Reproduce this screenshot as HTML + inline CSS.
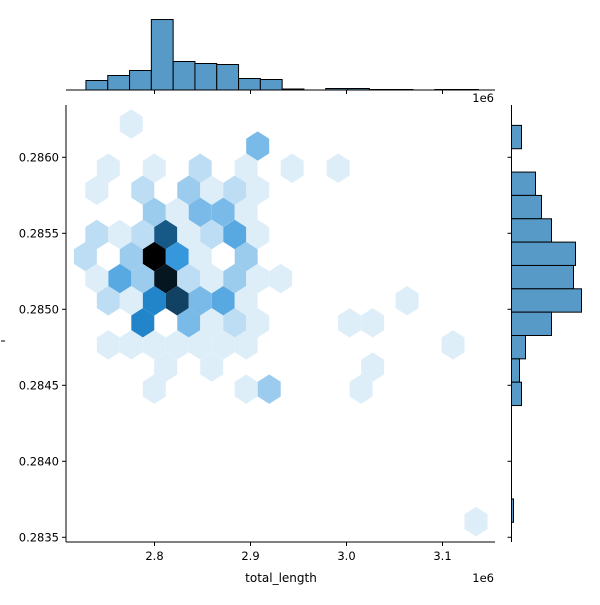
<!DOCTYPE html>
<html><head><meta charset="utf-8"><style>
html,body{margin:0;padding:0;background:#fff;}
svg text{font-family:"DejaVu Sans","Liberation Sans",sans-serif;fill:#000;}
</style></head><body>
<svg id="chart" width="600" height="600" viewBox="0 0 600 600" xmlns="http://www.w3.org/2000/svg">
<rect width="600" height="600" fill="#fff"/>
<g id="hexes"></g>
<g id="tophist"></g>
<g id="righthist"></g>
<g id="axes"></g>
</svg>
<script>
// ---- data ----
const hexX = [2.7758,2.9075,
2.7519,2.7998,2.8476,2.8955,2.9434,2.9913,
2.7399,2.7878,2.8357,2.8596,2.8836,2.9075,
2.7998,2.8237,2.8476,2.8716,2.8955,
2.7399,2.7639,2.7878,2.8117,2.8357,2.8596,2.8836,2.9075,
2.7280,2.7758,2.7998,2.8237,2.8476,2.8955,
2.7399,2.7639,2.7878,2.8117,2.8357,2.8596,2.8836,2.9075,2.9314,
2.7519,2.7758,2.7998,2.8237,2.8476,2.8716,2.8955,3.0631,
2.7878,2.8357,2.8596,2.8836,2.9075,3.0032,3.0272,
2.7519,2.7758,2.7998,2.8237,2.8476,2.8716,2.8955,3.1110,
2.8117,2.8596,3.0272,
2.7998,2.8955,2.9195,3.0152,
3.1349];
const hexY = [0.286219,0.286074,
0.285928,0.285928,0.285928,0.285928,0.285928,0.285928,
0.285783,0.285783,0.285783,0.285783,0.285783,0.285783,
0.285638,0.285638,0.285638,0.285638,0.285638,
0.285492,0.285492,0.285492,0.285492,0.285492,0.285492,0.285492,0.285492,
0.285347,0.285347,0.285347,0.285347,0.285347,0.285347,
0.285202,0.285202,0.285202,0.285202,0.285202,0.285202,0.285202,0.285202,0.285202,
0.285056,0.285056,0.285056,0.285056,0.285056,0.285056,0.285056,0.285056,
0.284911,0.284911,0.284911,0.284911,0.284911,0.284911,0.284911,
0.284766,0.284766,0.284766,0.284766,0.284766,0.284766,0.284766,0.284766,
0.284620,0.284620,0.284620,
0.284475,0.284475,0.284475,0.284475,
0.283603];
const hexCount = [1,4,
1,1,2,1,1,1,
1,2,3,1,2,1,
3,1,4,4,1,
2,1,2,9,1,2,5,1,
2,3,13,6,1,3,
1,5,3,12,2,1,3,1,1,
2,1,7,10,4,5,1,1,
7,4,1,2,1,1,1,
1,1,1,1,1,1,1,1,
1,1,1,
1,1,3,1,
1];
const topCounts = [19,29,39,141,57,53,51,23,21,2,0,3,3,1,1,0,1,1];
const topBinStart = 2.7286, topBinWidth = 0.022708;
const rightCounts = [5,0,12,15,20,32,31,35,20,7,4,5,0,0,0,0,1];
const rightBinTop = 0.28621, rightBinWidth = 0.0001536;
const xTicks = [2.8,2.9,3.0,3.1];
const xTickLabels = ["2.8","2.9","3.0","3.1"];
const yTicks = [0.2835,0.2840,0.2845,0.2850,0.2855,0.2860];
const yTickLabels = ["0.2835","0.2840","0.2845","0.2850","0.2855","0.2860"];

// ---- scales ----
const NS="http://www.w3.org/2000/svg";
const L=66,R=495,T=105,B=542;
function sx(v){return 154.5+(v-2.8)*960;}
function sy(v){return 157.3+(0.2860-v)/0.0005*76;}
const topBase=90, topH=74, topMax=Math.max(...topCounts)*1.05;
function topScale(c){return c/topMax*topH;}
const rightBase=511.5, rightW=73.5, rightMax=Math.max(...rightCounts)*1.05;
function rightScale(c){return c/rightMax*rightW;}
function el(tag,attrs,parent){const e=document.createElementNS(NS,tag);for(const k in attrs)e.setAttribute(k,attrs[k]);parent.appendChild(e);return e;}

// hexes
const hexG=document.getElementById('hexes');
const cmax=Math.max(...hexCount);
const hw=11.49, hh=14.73, hs=7.36;
hexX.forEach((xv,i)=>{
  const cx=sx(xv), cy=sy(hexY[i]);
  const l=100*(1-hexCount[i]/cmax);
  const pts=[[cx,cy-hh],[cx+hw,cy-hs],[cx+hw,cy+hs],[cx,cy+hh],[cx-hw,cy+hs],[cx-hw,cy-hs]].map(p=>p[0].toFixed(2)+','+p[1].toFixed(2)).join(' ');
  const p=el('polygon',{points:pts,fill:`hsl(204.6,70.5%,${l.toFixed(1)}%)`},hexG);
  
  
});

// top histogram
const tg=document.getElementById('tophist');
topCounts.forEach((c,i)=>{
  if(c<=0) return;
  const x0=sx(topBinStart+i*topBinWidth), x1=sx(topBinStart+(i+1)*topBinWidth);
  const h=topScale(c);
  const r=el('rect',{x:x0,y:topBase-h,width:x1-x0,height:h,fill:'#5799c7',stroke:'#000','stroke-width':1},tg);
  
  
});
// right histogram
const rg=document.getElementById('righthist');
rightCounts.forEach((c,i)=>{
  if(c<=0) return;
  const y0=sy(rightBinTop-i*rightBinWidth), y1=sy(rightBinTop-(i+1)*rightBinWidth);
  const w=rightScale(c);
  const r=el('rect',{x:rightBase,y:y0,width:w,height:y1-y0,fill:'#5799c7',stroke:'#000','stroke-width':1},rg);
  
  
});

// axes
const ag=document.getElementById('axes');
function line(x1,y1,x2,y2,name){const l=el('line',{x1,y1,x2,y2,stroke:'#000','stroke-width':1},ag);return l;}
function text(x,y,s,anchor,name,size){const t=el('text',{x,y,'text-anchor':anchor,'font-size':size||11.5},ag);t.textContent=s;return t;}
line(L,T,L,B,'y-axis-line');
line(L,B,R,B,'x-axis-line');
line(L,topBase,R,topBase,'top-hist-baseline');
line(rightBase,T,rightBase,B,'right-hist-baseline');
xTicks.forEach((v,i)=>{
  const x=sx(v);
  line(x,B,x,B+4,'x-tick');
  line(x,topBase,x,topBase+4,'top-hist-tick');
  text(x,B+18,xTickLabels[i],'middle','x-tick-label');
});
yTicks.forEach((v,i)=>{
  const y=sy(v);
  line(L-4,y,L,y,'y-tick');
  line(rightBase-4,y,rightBase,y,'right-hist-tick');
  text(L-7,y+4,yTickLabels[i],'end','y-tick-label');
});
text(281,582,'total_length','middle','x-axis-title',12);
text(494,582,'1e6','end','x-offset-label');
text(494,102,'1e6','end','y-offset-label');
line(1,341,5,341,'y-axis-title');
</script>
</body></html>
